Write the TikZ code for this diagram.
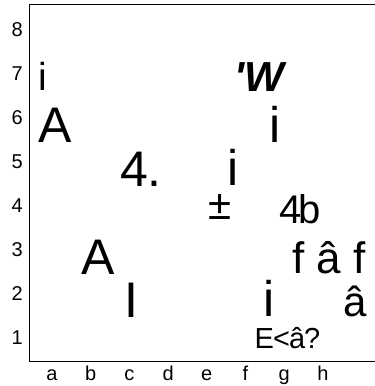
\documentclass[tikz,border=0pt]{standalone}
\usepackage{fontspec}
\setmainfont{Liberation Sans}
\begin{document}
\begin{tikzpicture}[
  x=1pt, y=-1pt,
  glyph/.style  = {inner sep=0pt, anchor=base},
  pcbig/.style  = {glyph, font=\fontsize{50}{50}\selectfont},
  pcmid/.style  = {glyph, font=\fontsize{42}{42}\selectfont},
  pclow/.style  = {glyph, font=\fontsize{39}{39}\selectfont},
  pcsml/.style  = {glyph, font=\fontsize{29}{29}\selectfont},
  tick/.style   = {inner sep=0pt, font=\fontsize{20}{20}\selectfont},
  frame/.style  = {line width=1pt},
]
\useasboundingbox (0,0) rectangle (375,386);

%%────────── board frame ─────────────────────────────────────
\coordinate (tr) at (375,4);
\coordinate (tl) at (29,4);
\coordinate (bl) at (29,361);
\coordinate (br) at (375,361);
\draw[frame] (tr) -- (tl) -- (bl) -- (br);

%%────────── rank and file labels ────────────────────────────
\foreach \r in {1,...,8}
  \node[tick, anchor=base east] (rank\r) at (23, {36+(8-\r)*44}) {\r};
\foreach \f [count=\i from 0] in {a,b,c,d,e,f,g,h}
  \node[tick, anchor=base] (file\f) at ({52+38.7*\i}, 380) {\f};

%%────────── glyphs ──────────────────────────────────────────
\node[pclow] (ia7)  at (43,   90)  {i};
\node[pcbig] (Aa6)  at (55,   142) {A};
\node[pcbig] (fc5)  at (141,  186) {4\kern-1pt.};
\node[pcmid, font=\fontsize{42}{42}\selectfont\bfseries\itshape]
             (wf7)  at (259.5, 91) {\textquotesingle W};
\node[pcbig] (ig6)  at (275.5, 142) {i};
\node[pcbig] (ie5)  at (233.5, 185) {i};
\node[pcmid] (pe4)  at (220,  219) {±};
\node[pclow, font=\fontsize{40}{40}\selectfont]
             (bg4)  at (300.5, 223) {4\kern-3pt b};
\node[pcbig] (Ab3)  at (98.5, 274) {A};
\node[pcmid, font=\fontsize{44}{44}\selectfont]
             (fh3)  at (329,  273) {f â f};
\node[pcbig] (Ic2)  at (131,  317) {I};
\node[pcbig] (if2)  at (269.5, 316) {i};
\node[pcmid] (ah2)  at (355.5, 316) {â};
\node[pcsml] (Eg1)  at (287.5, 348) {E\kern-1pt<\kern-1pt â\kern-1pt ?};

\end{tikzpicture}
\end{document}
